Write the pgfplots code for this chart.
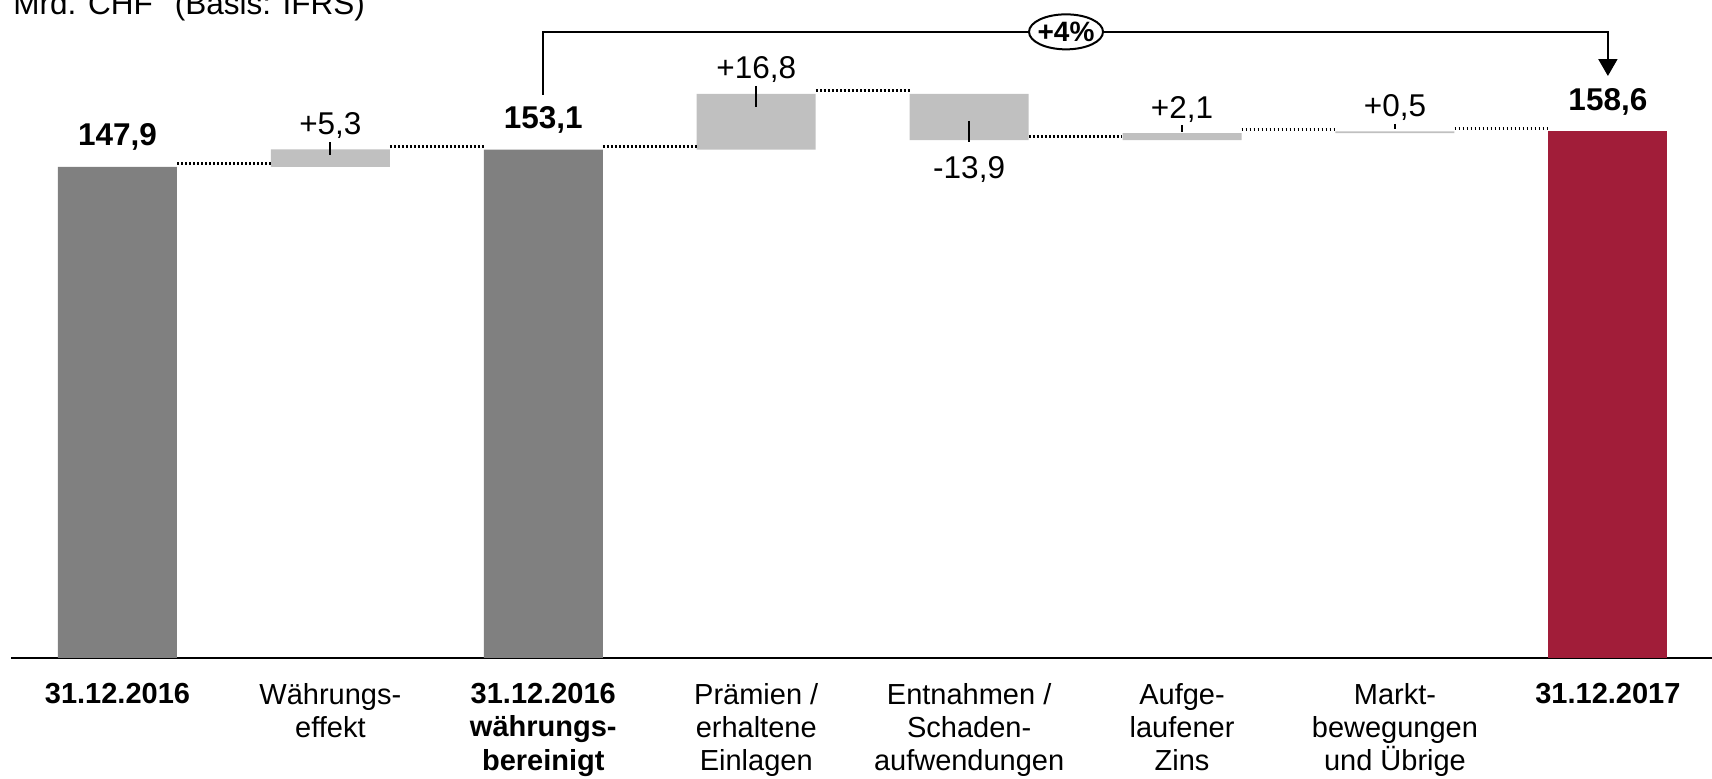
\documentclass[border=0pt]{standalone}
\usepackage{fontspec}
\setmainfont{Liberation Sans}
\usepackage{pgfplots}
\pgfplotsset{compat=1.18}
\usetikzlibrary{arrows.meta}

\definecolor{dunkelgrau}{RGB}{128,128,128}
\definecolor{hellgrau}{RGB}{192,192,192}
\definecolor{weinrot}{RGB}{161,29,57}

\newcommand\lab{\fontsize{14.5}{16.6}\selectfont}
\newcommand\val{\fontsize{15.75}{18}\selectfont}

% gemeinsame Achsengeometrie
\pgfplotsset{wf/.style={
    scale only axis,
    width=850.5pt, height=329pt,
    xmin=-0.5, xmax=7.489,
    ymin=0, ymax=198.2,
    enlargelimits=false,
}}

\begin{document}
\begin{tikzpicture}
\begin{axis}[wf,
    ybar stacked,
    bar width=59.5pt,
    axis x line=bottom,
    axis y line=none,
    x axis line style={-, line width=1.4pt},
    xtick={0,...,7},
    major tick length=0pt,
    xticklabels={
        {\bfseries 31.12.2016},
        Währungs-\\effekt,
        {\bfseries 31.12.2016}\\{\bfseries währungs-}\\{\bfseries bereinigt},
        Prämien /\\erhaltene\\Einlagen,
        Entnahmen /\\Schaden-\\aufwendungen,
        Aufge-\\laufener\\Zins,
        Markt-\\bewegungen\\und Übrige,
        {\bfseries 31.12.2017}},
    xticklabel style={anchor=north, align=center, font=\lab, inner sep=0pt, yshift=-12.5pt},
    ytick=\empty,
]
% unsichtbare Basis
\addplot[draw=none, fill=none] coordinates {
    (0,0) (1,147.9) (2,0) (3,153.1) (4,156.0) (5,156.0) (6,158.1) (7,0)};
% Stichtagswerte
\addplot[draw=none, fill=dunkelgrau] coordinates {
    (0,147.9) (1,0) (2,153.1) (3,0) (4,0) (5,0) (6,0) (7,0)};
% Veraenderungen
\addplot[draw=none, fill=hellgrau] coordinates {
    (0,0) (1,5.3) (2,0) (3,16.8) (4,13.9) (5,2.1) (6,0.5) (7,0)};
% Endwert
\addplot[draw=none, fill=weinrot] coordinates {
    (0,0) (1,0) (2,0) (3,0) (4,0) (5,0) (6,0) (7,158.6)};
\end{axis}

\begin{axis}[wf, hide axis, clip=false]
% Verbindungslinien
\pgfplotsset{verb/.style={black, line width=1.4pt, dash pattern=on 0.9pt off 1.1pt}}
\addplot[verb] coordinates {(0.28,148.9) (0.72,148.9)};
\addplot[verb] coordinates {(1.28,154.1) (1.72,154.1)};
\addplot[verb] coordinates {(2.28,154.1) (2.72,154.1)};
\addplot[verb] coordinates {(3.28,170.9) (3.72,170.9)};
\addplot[verb] coordinates {(4.28,157.0) (4.72,157.0)};
\addplot[verb] coordinates {(5.28,159.1) (5.72,159.1)};
\addplot[verb] coordinates {(6.28,159.6) (6.72,159.6)};
% Hinweisstriche
\pgfplotsset{strich/.style={black, line width=0.9pt}}
\addplot[strich] coordinates {(1,155.4) (1,151.5)};
\addplot[strich] coordinates {(3,172.3) (3,166.0)};
\addplot[strich] coordinates {(4,161.8) (4,155.4)};
\addplot[strich] coordinates {(5,160.6) (5,158.3)};
\addplot[strich] coordinates {(6,160.9) (6,159.4)};
% Klammer mit Pfeil
\addplot[black, line width=1pt, -{Triangle[width=9.5pt,length=8.5pt]}] coordinates {
    (2,169.6) (2,188.6) (7,188.6) (7,175.3)};
\draw[fill=white, line width=1pt] (axis cs:4.455,188.6) ellipse [x radius=18.5pt, y radius=8.75pt];
\node[font=\fontsize{14}{16}\selectfont\bfseries, inner sep=0pt] at (axis cs:4.455,188.6) {+4\%};

% Werte
\node[anchor=base, font=\val\bfseries, yshift=10.5pt] at (axis cs:0,147.9) {147,9};
\node[anchor=base, font=\val\bfseries, yshift=10.5pt] at (axis cs:2,153.1) {153,1};
\node[anchor=base, font=\val\bfseries, yshift=10.5pt] at (axis cs:7,158.6) {158,6};
\node[anchor=base, font=\val, yshift=7.5pt] at (axis cs:1,153.2) {+5,3};
\node[anchor=base, font=\val, yshift=7.5pt] at (axis cs:3,169.9) {+16,8};
\node[anchor=base, font=\val, yshift=-19pt] at (axis cs:4,156.0) {-13,9};
\node[anchor=base, font=\val, yshift=7.5pt] at (axis cs:5,158.1) {+2,1};
\node[anchor=base, font=\val, yshift=7.5pt] at (axis cs:6,158.6) {+0,5};
\end{axis}

\node[anchor=base west, font=\val, inner sep=0pt] at (1pt,321.5pt) {Mrd. CHF\hspace{11pt}(Basis: IFRS)};

\pgfresetboundingbox
\path[use as bounding box] (-5.5pt,-60.5pt) rectangle (850.5pt,329pt);
\end{tikzpicture}
\end{document}
